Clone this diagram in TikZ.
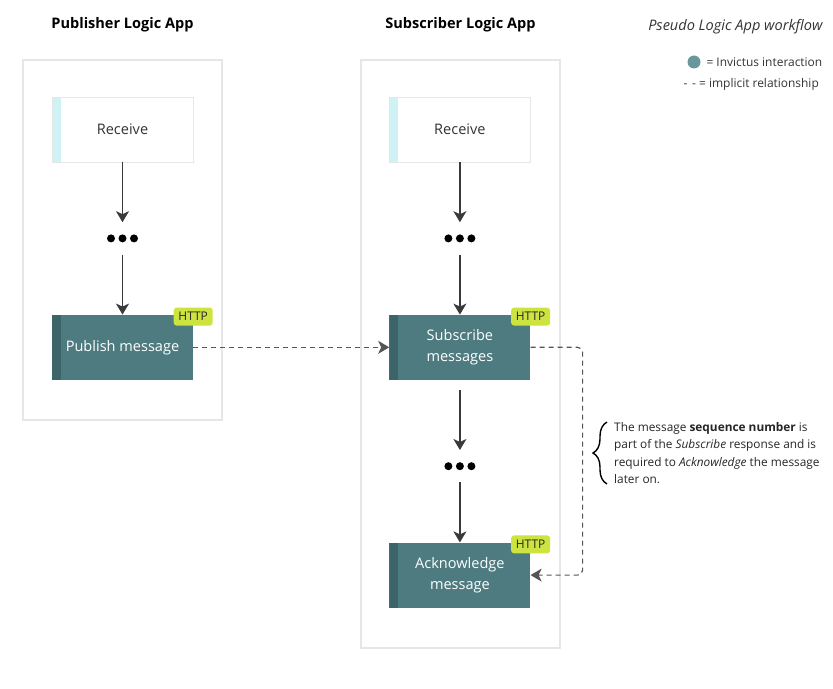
\documentclass[tikz,border=0pt]{standalone}
\usepackage{fontspec}
\setmainfont{Open Sans}
\usetikzlibrary{arrows.meta,positioning,decorations.pathreplacing}

\definecolor{tealbox}{HTML}{4D7B80}
\definecolor{tealstrip}{HTML}{3C6569}
\definecolor{limetag}{HTML}{CDE33F}
\definecolor{framegray}{HTML}{E6E6E6}
\definecolor{cyanstrip}{HTML}{CFF3F4}
\definecolor{linegray}{HTML}{3A3A3A}
\definecolor{dashgray}{HTML}{555555}
\definecolor{invictus}{HTML}{6A979C}

\begin{document}
\begin{tikzpicture}[x=1bp, y=-1bp, node distance=60bp,
    frame/.style={rectangle, draw=framegray, line width=2bp, fill=white},
    title/.style={font=\fontsize{14.6}{17}\selectfont\bfseries},
    trigger/.style={rectangle, draw=framegray, fill=white, minimum width=141bp, minimum height=65bp, font=\fontsize{14.6}{17}\selectfont, text=black!80,
        path picture={\fill[cyanstrip] (path picture bounding box.south west) rectangle ([xshift=9bp]path picture bounding box.north west);}},
    block/.style={rectangle, fill=tealbox, minimum width=141bp, minimum height=65bp, align=center, text=white, font=\fontsize{14.6}{20.5}\selectfont,
        path picture={\fill[tealstrip] (path picture bounding box.south west) rectangle ([xshift=9bp]path picture bounding box.north west);}},
    httptag/.style={rectangle, fill=limetag, rounded corners=3bp, minimum width=39bp, minimum height=18bp, inner sep=0pt, font=\fontsize{12}{13}\selectfont, text=black!85},
    dots/.style={minimum width=40bp, minimum height=32bp, inner sep=0pt,
        path picture={\foreach \i in {-1,0,1} \fill[black] ([xshift=\i*11.5bp]path picture bounding box.center) circle (4bp);}},
    flow/.style={draw=linegray, line width=1.3bp, -{Stealth[length=11bp, width=13bp, inset=3bp]}},
    implicit/.style={draw=dashgray, line width=1.2bp, dash pattern=on 5bp off 4bp, -{Stealth[length=11bp, width=13bp, inset=3bp]}},
    note/.style={font=\fontsize{11.9}{17.5}\selectfont, text=black!85, align=left, inner sep=0pt}]

    \useasboundingbox (0,0) rectangle (833,689);

    \node[frame, minimum width=199bp, minimum height=360bp] (pubframe) at (122.5,240) {};
    \node[frame, minimum width=199bp, minimum height=588bp] (subframe) at (460.5,354) {};
    \node[title] (pubtitle) at (122.5,25) {Publisher Logic App};
    \node[title] (subtitle) at (460.5,25) {Subscriber Logic App};

    \node[trigger] (recv1) at (122.5,129.5) {Receive};
    \node[dots, below=of recv1] (dots1) {};
    \node[block, below=of dots1] (pub) {Publish message};
    \node[httptag] (pubhttp) at ([yshift=-2bp]pub.north east) {HTTP};

    \node[trigger, right=196bp of recv1] (recv2) {Receive};
    \node[dots, below=of recv2] (dots2) {};
    \node[block, below=of dots2] (sub) {Subscribe\\messages};
    \node[httptag] (subhttp) at ([yshift=-2bp]sub.north east) {HTTP};
    \node[dots, below=70bp of sub] (dots3) {};
    \node[block, below=of dots3] (ack) {Acknowledge\\message};
    \node[httptag] (ackhttp) at ([yshift=-2bp]ack.north east) {HTTP};

    \draw[flow] (recv1) -- (dots1);
    \draw[flow] (dots1) -- (pub);
    \draw[flow] (recv2) -- (dots2);
    \draw[flow] (dots2) -- (sub);
    \draw[flow, shorten <=10bp] (sub) -- (dots3);
    \draw[flow] (dots3) -- (ack);

    \draw[implicit] (pub) -- (sub);
    \draw[implicit, rounded corners=5bp] (sub.east) -- ++(52,0) |- (ack.east);

    \node[note, anchor=west] (seqnote) at (614,453) {The message \textbf{sequence number} is\\part of the \textit{Subscribe} response and is\\required to \textit{Acknowledge} the message\\later on.};
    \draw[line width=1.4bp, decorate, decoration={brace, amplitude=14bp}] ([xshift=-7bp]seqnote.south west) -- ([xshift=-7bp]seqnote.north west);

    \node[font=\fontsize{14.6}{17}\selectfont\itshape, text=black!80, anchor=east] (legendtitle) at (826,27) {Pseudo Logic App workflow};
    \node[circle, fill=invictus, minimum size=13bp, inner sep=0pt] (legenddot) at (694,62) {};
    \node[font=\fontsize{12}{13}\selectfont, text=black!80, anchor=west] (legendinv) at (703,62) {= Invictus interaction};
    \node[font=\fontsize{12}{13}\selectfont, text=black!80, anchor=west] (legendimp) at (680,84) {-\hspace{0.4em}- = implicit relationship};
\end{tikzpicture}
\end{document}
